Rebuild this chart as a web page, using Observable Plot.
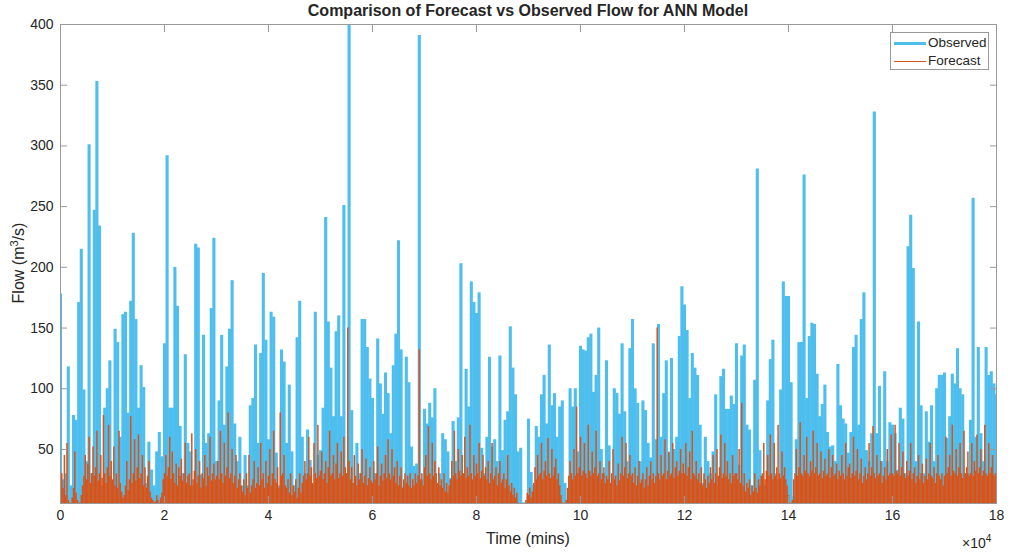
<!DOCTYPE html>
<html>
<head>
<meta charset="utf-8">
<script src="https://cdn.jsdelivr.net/npm/d3@7"></script>
<script src="https://cdn.jsdelivr.net/npm/@observablehq/plot@0.6"></script>
<style>
  body { margin: 0; background: white; }
  #wrap { position: relative; width: 1011px; height: 552px; font-family: "Liberation Sans", Arial, Helvetica, sans-serif; color: #262626; }
  #wrap svg { position: absolute; left: 0; top: 0; }
  .lbl { position: absolute; white-space: nowrap; }
  #title { top: 2px; left: 60px; width: 936px; text-align: center; font-weight: bold; font-size: 16px; }
  #xlabel { top: 530px; left: 60px; width: 936px; text-align: center; font-size: 16px; }
  #ylabel { left: 18px; top: 263px; font-size: 16px; transform: translate(-50%, -50%) rotate(-90deg); }
  #expo { top: 533px; left: 962px; font-size: 14px; }
  #legend { position: absolute; left: 890px; top: 32px; width: 97px; height: 36px; border: 1px solid #9a9a9a; background: white; font-size: 13.5px; }
  .row { position: absolute; left: 0; height: 18px; width: 97px; }
  .sw { position: absolute; left: 3px; width: 32px; }
  .row span { position: absolute; left: 37px; top: 1px; }
</style>
</head>
<body>
<div id="wrap">
  <div id="title" class="lbl">Comparison of Forecast vs Observed Flow for ANN Model</div>
  <div id="xlabel" class="lbl">Time (mins)</div>
  <div id="ylabel" class="lbl">Flow (m<sup style="font-size:11px">3</sup>/s)</div>
  <div id="expo" class="lbl">×10<sup style="font-size:10px">4</sup></div>
  <div id="legend">
    <div class="row" style="top:1px"><div class="sw" style="top:8px;height:3px;background:#4DBEEE"></div><span>Observed</span></div>
    <div class="row" style="top:19px"><div class="sw" style="top:9px;height:1px;background:#D95319"></div><span>Forecast</span></div>
  </div>
</div>
<script>
// sampling intervals (minutes)
const obsStep = 500;
const fcStep = 250;

// Observed flow (m^3/s), one value every 500 mins, 0 .. 180000 mins
const observed = [
  178, 25, 30, 118, 20, 78, 74, 171, 215, 99, 40, 301, 30, 247, 353, 234, 20, 84, 100, 123,
  22, 149, 138, 60, 161, 163, 80, 172, 228, 157, 84, 119, 101, 22, 56, 33, 20, 48, 64, 44,
  137, 292, 84, 84, 200, 168, 69, 30, 128, 55, 48, 20, 219, 216, 29, 144, 55, 63, 166, 224,
  40, 90, 144, 70, 118, 149, 189, 71, 40, 60, 20, 45, 20, 86, 92, 136, 55, 129, 195, 140,
  58, 163, 159, 47, 20, 132, 122, 55, 103, 48, 20, 142, 172, 60, 30, 66, 41, 20, 163, 45,
  49, 84, 241, 155, 117, 77, 147, 160, 77, 251, 30, 400, 82, 22, 55, 30, 157, 157, 134, 108,
  92, 30, 141, 104, 79, 113, 96, 63, 119, 145, 222, 132, 19, 126, 105, 52, 36, 38, 391, 25,
  83, 71, 88, 76, 100, 20, 30, 63, 58, 48, 26, 73, 40, 76, 203, 30, 116, 85, 188, 171,
  162, 179, 51, 30, 60, 126, 52, 58, 40, 127, 49, 74, 81, 151, 117, 95, 48, 51, 6, 6,
  75, 31, 20, 69, 60, 95, 111, 71, 136, 86, 96, 60, 85, 90, 22, 8, 100, 85, 100, 48,
  135, 132, 131, 142, 145, 97, 111, 150, 50, 30, 123, 53, 8, 100, 96, 79, 137, 81, 40, 133,
  157, 100, 88, 40, 90, 82, 55, 43, 137, 58, 153, 60, 96, 123, 47, 125, 50, 60, 143, 184,
  169, 148, 92, 129, 117, 111, 70, 22, 60, 40, 30, 48, 95, 20, 110, 116, 83, 83, 94, 87,
  137, 37, 127, 136, 70, 66, 20, 107, 281, 49, 19, 20, 90, 124, 140, 30, 25, 99, 188, 176,
  176, 105, 11, 58, 138, 138, 276, 92, 143, 154, 153, 112, 77, 87, 103, 64, 52, 53, 40, 120,
  86, 75, 71, 47, 64, 134, 144, 70, 157, 179, 49, 40, 63, 328, 63, 102, 40, 114, 40, 72,
  70, 63, 33, 84, 75, 30, 217, 243, 199, 40, 155, 86, 30, 81, 56, 86, 40, 100, 111, 111,
  113, 59, 77, 112, 104, 133, 100, 95, 30, 30, 74, 257, 60, 134, 63, 40, 134, 111, 114, 104,
  95
];

// ANN forecast flow (m^3/s), one value every 250 mins
const forecast = [
  22, 30, 18, 45, 12, 55, 8, 6, 5, 10, 18, 48, 14, 8, 6, 5, 12, 20, 28, 45,
  25, 38, 60, 22, 30, 52, 28, 35, 65, 24, 30, 45, 26, 78, 30, 22, 35, 70, 28, 40,
  25, 52, 20, 30, 18, 65, 22, 15, 10, 12, 20, 40, 16, 25, 77, 22, 30, 58, 24, 35,
  62, 26, 30, 45, 20, 35, 18, 28, 40, 15, 10, 8, 6, 7, 12, 8, 5, 10, 14, 25,
  30, 45, 28, 35, 60, 25, 48, 30, 22, 38, 20, 35, 28, 42, 24, 30, 55, 22, 28, 30,
  20, 63, 25, 32, 50, 22, 28, 40, 18, 30, 26, 45, 20, 35, 28, 60, 24, 30, 38, 25,
  28, 40, 25, 65, 30, 22, 55, 28, 35, 80, 26, 30, 50, 22, 28, 45, 18, 25, 30, 20,
  15, 25, 12, 30, 18, 45, 14, 20, 25, 40, 18, 22, 35, 20, 55, 25, 30, 18, 40, 22,
  28, 50, 20, 30, 65, 25, 22, 35, 18, 80, 28, 30, 45, 20, 18, 25, 14, 30, 12, 20,
  15, 25, 10, 18, 30, 14, 22, 28, 40, 25, 30, 60, 28, 35, 22, 55, 30, 26, 70, 28,
  32, 48, 25, 30, 40, 22, 35, 65, 28, 30, 45, 25, 38, 55, 26, 30, 48, 28, 60, 35,
  30, 150, 40, 25, 35, 22, 45, 28, 20, 38, 25, 30, 50, 22, 28, 42, 20, 26, 35, 24,
  22, 40, 25, 30, 52, 20, 28, 38, 24, 30, 45, 26, 58, 30, 25, 50, 28, 35, 22, 40,
  20, 28, 35, 18, 25, 30, 22, 28, 20, 30, 18, 25, 20, 30, 22, 28, 132, 25, 30, 20,
  35, 45, 28, 69, 30, 25, 55, 28, 40, 30, 22, 35, 20, 25, 18, 30, 15, 22, 14, 20,
  25, 40, 28, 65, 30, 25, 50, 32, 28, 45, 30, 60, 26, 35, 28, 70, 30, 25, 45, 28,
  38, 30, 55, 26, 32, 45, 28, 35, 25, 40, 22, 30, 55, 25, 28, 35, 20, 30, 40, 22,
  25, 30, 18, 25, 45, 20, 15, 22, 12, 18, 10, 14, 6, 5, 4, 4, 5, 4, 8, 14,
  12, 18, 10, 15, 22, 35, 25, 45, 28, 30, 55, 25, 32, 40, 28, 59, 30, 26, 50, 28,
  35, 42, 25, 30, 20, 12, 6, 5, 4, 8, 18, 28, 40, 30, 25, 50, 28, 85, 30, 35,
  60, 28, 32, 55, 30, 26, 70, 32, 28, 48, 30, 35, 65, 28, 30, 40, 25, 30, 35, 22,
  28, 25, 40, 22, 30, 50, 25, 28, 20, 38, 24, 30, 60, 28, 35, 55, 26, 30, 45, 28,
  30, 22, 35, 20, 28, 40, 22, 25, 30, 18, 25, 35, 20, 28, 40, 25, 30, 22, 28, 150,
  30, 25, 45, 28, 30, 58, 25, 32, 48, 28, 30, 55, 26, 35, 40, 28, 32, 50, 30, 38,
  30, 55, 28, 35, 48, 25, 65, 30, 28, 40, 25, 30, 22, 35, 20, 30, 25, 18, 28, 22,
  35, 25, 45, 22, 30, 50, 28, 35, 62, 26, 30, 55, 28, 40, 25, 30, 22, 45, 28, 30,
  30, 25, 50, 22, 88, 20, 30, 15, 22, 18, 25, 12, 20, 15, 30, 18, 14, 25, 20, 28,
  30, 55, 25, 32, 45, 28, 62, 30, 25, 55, 28, 35, 70, 30, 26, 48, 28, 35, 25, 20,
  12, 6, 5, 8, 25, 30, 50, 28, 35, 72, 30, 28, 45, 32, 60, 30, 28, 40, 32, 65,
  30, 35, 55, 28, 30, 48, 26, 32, 42, 28, 30, 50, 26, 35, 45, 28, 30, 38, 25, 32,
  28, 45, 30, 25, 55, 28, 35, 38, 26, 30, 60, 28, 32, 50, 25, 30, 42, 22, 28, 35,
  25, 30, 55, 28, 35, 69, 30, 26, 45, 28, 30, 40, 22, 28, 35, 25, 50, 28, 30, 62,
  30, 28, 70, 32, 30, 55, 28, 35, 48, 30, 26, 40, 28, 32, 55, 25, 30, 35, 22, 28,
  45, 25, 30, 38, 22, 28, 42, 25, 30, 55, 28, 26, 35, 22, 30, 45, 28, 25, 30, 20,
  28, 60, 30, 35, 45, 28, 70, 32, 30, 50, 28, 35, 55, 30, 26, 65, 30, 35, 48, 28,
  30, 55, 28, 40, 32, 62, 30, 35, 50, 28, 32, 70, 30, 28, 55, 30, 35, 45, 28, 30,
  30
];

const xTicks = [0, 2, 4, 6, 8, 10, 12, 14, 16, 18];   // ×10^4 mins
const yTicks = [50, 100, 150, 200, 250, 300, 350, 400];
const xScale = 1e4;
const yDomain = [5.5, 400];

const obsRows = observed.map((v, i) => ({t: i * obsStep, v}));
const fcRows = forecast.map((v, i) => ({t: i * fcStep, v}));

const axisGray = "#9a9a9a";
const chart = Plot.plot({
  width: 1011,
  height: 552,
  marginLeft: 60,
  marginRight: 15,
  marginTop: 24,
  marginBottom: 49,
  style: {fontFamily: "'Liberation Sans', Arial, Helvetica, sans-serif", fontSize: "14px", color: "#262626", background: "transparent"},
  x: {domain: [0, 180000], label: null},
  y: {domain: yDomain, label: null},
  marks: [
    Plot.ruleX(obsRows, {x: "t", y1: 0, y2: "v", stroke: "#4DBEEE", strokeWidth: 3.1, clip: true}),
    Plot.ruleX(fcRows, {x: "t", y1: 0, y2: "v", stroke: "#D95319", strokeWidth: 1.5, clip: true}),
    Plot.frame({stroke: axisGray}),
    Plot.axisX({anchor: "bottom", ticks: xTicks.map(d => d * xScale), tickFormat: d => String(d / xScale), tickSize: -7, tickPadding: 14, stroke: axisGray, fill: "#262626", label: null}),
    Plot.axisX({anchor: "top", ticks: xTicks.map(d => d * xScale), tickFormat: () => "", tickSize: -7, stroke: axisGray, label: null}),
    Plot.axisY({anchor: "left", ticks: yTicks, tickSize: -7, tickPadding: 14, stroke: axisGray, fill: "#262626", label: null}),
    Plot.axisY({anchor: "right", ticks: yTicks, tickFormat: () => "", tickSize: -7, stroke: axisGray, label: null})
  ]
});
document.getElementById("wrap").prepend(chart);
</script>
</body>
</html>
